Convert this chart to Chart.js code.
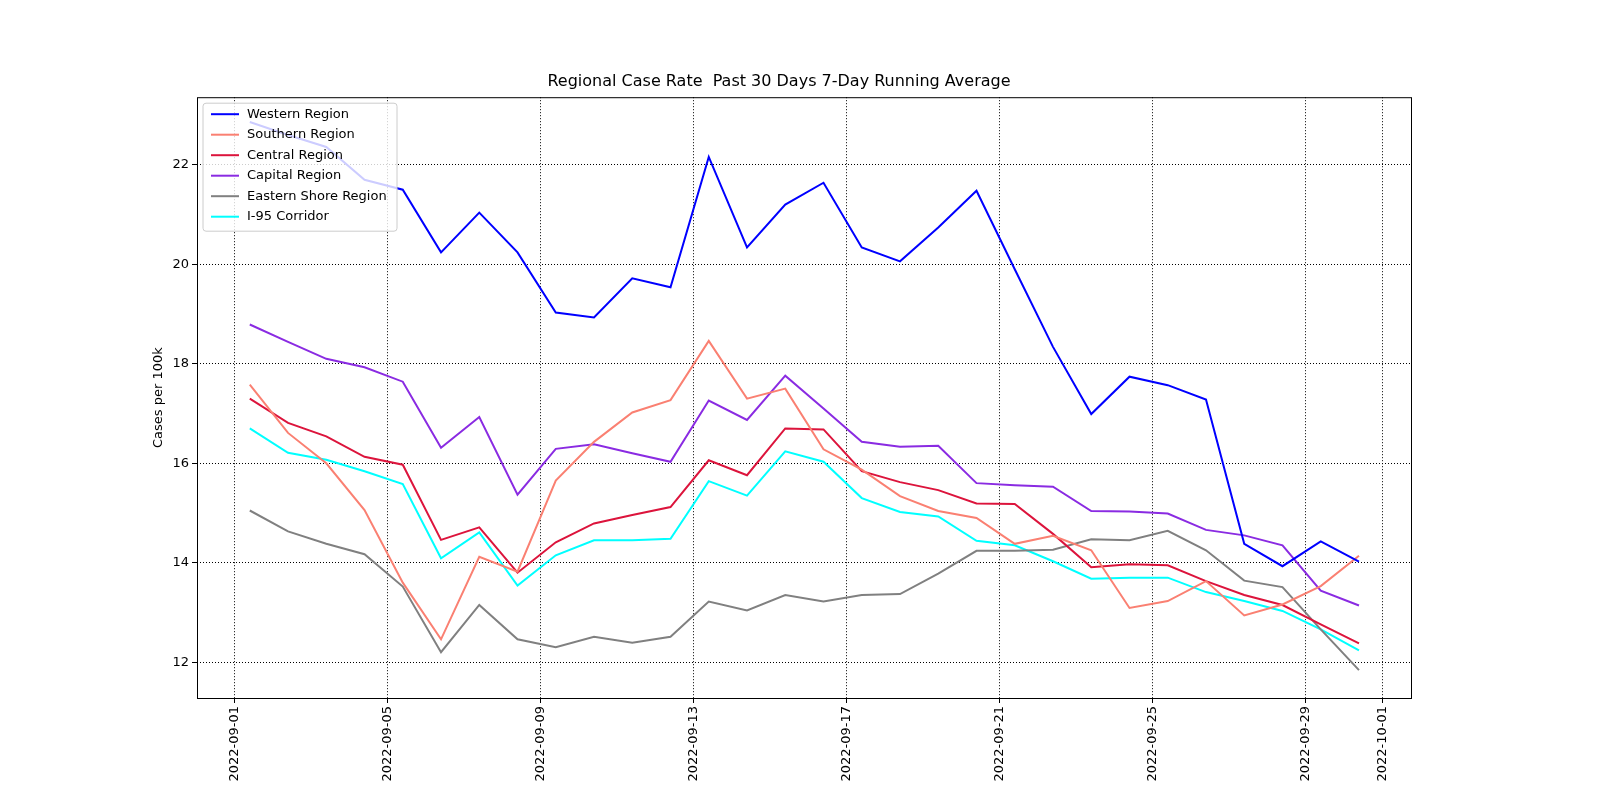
<!DOCTYPE html>
<html>
<head>
<meta charset="utf-8">
<script src="https://cdn.jsdelivr.net/npm/chart.js@4/dist/chart.umd.min.js"></script>
<style>
  body { margin: 0; background: #fff; }
  #wrap { width: 1600px; height: 800px; }
</style>
</head>
<body>
<div id="wrap"><canvas id="displayChart" width="1600" height="800"></canvas></div>
<script>
//days since 2022-09-01, points sit at ~10:00 each day
var dayOffsets = [];
for (var i = 0; i < 30; i++) dayOffsets.push(i + 0.39);

var tickDays = [0, 4, 8, 12, 16, 20, 24, 28, 30];
var tickLabels = ["2022-09-01", "2022-09-05", "2022-09-09", "2022-09-13", "2022-09-17",
  "2022-09-21", "2022-09-25", "2022-09-29", "2022-10-01"];

var western = [22.86, 22.6, 22.36, 21.7, 21.5, 20.24, 21.04, 20.24, 19.03, 18.93, 19.72, 19.54,
  22.16, 20.34, 21.2, 21.64, 20.34, 20.06, 20.74, 21.48, 19.9, 18.34, 16.99, 17.74, 17.57, 17.28,
  14.38, 13.93, 14.43, 14.02];
var southern = [17.58, 16.61, 16.0, 15.06, 13.6, 12.46, 14.12, 13.82, 15.65, 16.43, 17.02, 17.27,
  18.46, 17.3, 17.5, 16.28, 15.87, 15.34, 15.04, 14.9, 14.38, 14.54, 14.25, 13.09, 13.23, 13.63,
  12.94, 13.16, 13.53, 14.14];
var central = [17.3, 16.81, 16.54, 16.13, 15.97, 14.46, 14.71, 13.8, 14.41, 14.79, 14.96, 15.12,
  16.06, 15.76, 16.7, 16.68, 15.84, 15.62, 15.46, 15.19, 15.18, 14.58, 13.91, 13.97, 13.95, 13.63,
  13.35, 13.15, 12.76, 12.38];
var capital = [18.79, 18.44, 18.1, 17.93, 17.64, 16.31, 16.93, 15.37, 16.29, 16.38, 16.2, 16.03,
  17.26, 16.87, 17.76, 17.1, 16.43, 16.33, 16.35, 15.6, 15.56, 15.53, 15.04, 15.03, 14.99, 14.66,
  14.55, 14.35, 13.44, 13.14];
var eastern = [15.05, 14.63, 14.38, 14.17, 13.52, 12.2, 13.15, 12.46, 12.3, 12.51, 12.39, 12.51,
  13.22, 13.04, 13.35, 13.22, 13.35, 13.37, 13.78, 14.24, 14.24, 14.26, 14.47, 14.45, 14.64, 14.25,
  13.64, 13.51, 12.66, 11.84];
var i95 = [16.7, 16.21, 16.07, 15.84, 15.58, 14.09, 14.61, 13.54, 14.15, 14.45, 14.45, 14.48,
  15.64, 15.35, 16.24, 16.03, 15.3, 15.02, 14.93, 14.44, 14.35, 14.03, 13.68, 13.7, 13.7, 13.41,
  13.23, 13.03, 12.66, 12.24];

var seriesNames = ["Western Region", "Southern Region", "Central Region", "Capital Region",
  "Eastern Shore Region", "I-95 Corridor"];
var seriesColors = ["#0000ff", "#fa8072", "#dc143c", "#8a2be2", "#808080", "#00ffff"];
var seriesData = [western, southern, central, capital, eastern, i95];

function toPoints(arr) {
  return arr.map(function (v, i) { return { x: dayOffsets[i], y: v }; });
}

var datasets = seriesData.map(function (arr, k) {
  return {
    label: seriesNames[k],
    data: toPoints(arr),
    borderColor: seriesColors[k],
    backgroundColor: seriesColors[k],
    borderWidth: 2,
    pointRadius: 0,
    tension: 0
  };
});

//legend box drawn inside the plot, upper left
var insideLegend = {
  id: "insideLegend",
  afterDraw: function (chart) {
    var ctx = chart.ctx, a = chart.chartArea;
    var x = a.left + 6, y = a.top + 6, w = 194, h = 128;
    ctx.save();
    ctx.fillStyle = "rgba(255,255,255,0.8)";
    ctx.strokeStyle = "#cccccc";
    ctx.lineWidth = 1;
    ctx.beginPath();
    ctx.roundRect(x, y, w, h, 3);
    ctx.fill();
    ctx.stroke();
    ctx.font = "13px 'DejaVu Sans'";
    ctx.textBaseline = "middle";
    chart.data.datasets.forEach(function (ds, k) {
      var ly = y + 11 + k * 20.5;
      ctx.strokeStyle = ds.borderColor;
      ctx.lineWidth = 2;
      ctx.beginPath();
      ctx.moveTo(x + 8, ly);
      ctx.lineTo(x + 36, ly);
      ctx.stroke();
      ctx.fillStyle = "#000";
      ctx.fillText(ds.label, x + 44, ly);
    });
    ctx.restore();
  }
};

//matplotlib style solid frame round the plot
var frame = {
  id: "frame",
  beforeDatasetsDraw: function (ch) {
    var a = ch.chartArea, g = ch.ctx;
    g.save();
    g.strokeStyle = "#000";
    g.lineWidth = 1;
    g.strokeRect(a.left + 0.5, a.top + 0.5, a.right - a.left, a.bottom - a.top);
    g.restore();
  }
};

var c = document.getElementById("displayChart");
var ctx = c.getContext("2d");
var chart = new Chart(ctx, {
  type: "line",
  data: { datasets: datasets },
  plugins: [frame, insideLegend],
  options: {
    responsive: false,
    animation: false,
    layout: { padding: { left: 147, right: 189, top: 0, bottom: 0 } },
    plugins: {
      legend: { display: false },
      tooltip: { enabled: false },
      title: {
        display: true,
        text: "Regional Case Rate  Past 30 Days 7-Day Running Average",
        color: "#000",
        font: { family: "DejaVu Sans", size: 16, weight: "normal" },
        padding: { top: 72, bottom: 6 }
      }
    },
    scales: {
      x: {
        type: "linear",
        min: -0.99,
        max: 30.75,
        afterBuildTicks: function (axis) {
          axis.ticks = tickDays.map(function (d) { return { value: d }; });
        },
        afterFit: function (axis) { axis.height = 102; },
        ticks: {
          autoSkip: false,
          minRotation: 90,
          maxRotation: 90,
          color: "#000",
          font: { family: "DejaVu Sans", size: 13 },
          callback: function (v) { return tickLabels[tickDays.indexOf(v)]; }
        },
        grid: { color: "#000", lineWidth: 1, tickLength: 5 },
        border: { display: false, dash: [1, 2] }
      },
      y: {
        min: 11.28,
        max: 23.36,
        afterFit: function (axis) { axis.width = 50; },
        afterBuildTicks: function (axis) {
          axis.ticks = [12, 14, 16, 18, 20, 22].map(function (v) { return { value: v }; });
        },
        ticks: {
          color: "#000",
          font: { family: "DejaVu Sans", size: 13 }
        },
        title: {
          display: true,
          text: "Cases per 100k",
          color: "#000",
          font: { family: "DejaVu Sans", size: 13 }
        },
        grid: { color: "#000", lineWidth: 1, tickLength: 5 },
        border: { display: false, dash: [1, 2] }
      }
    }
  }
});
</script>
</body>
</html>
